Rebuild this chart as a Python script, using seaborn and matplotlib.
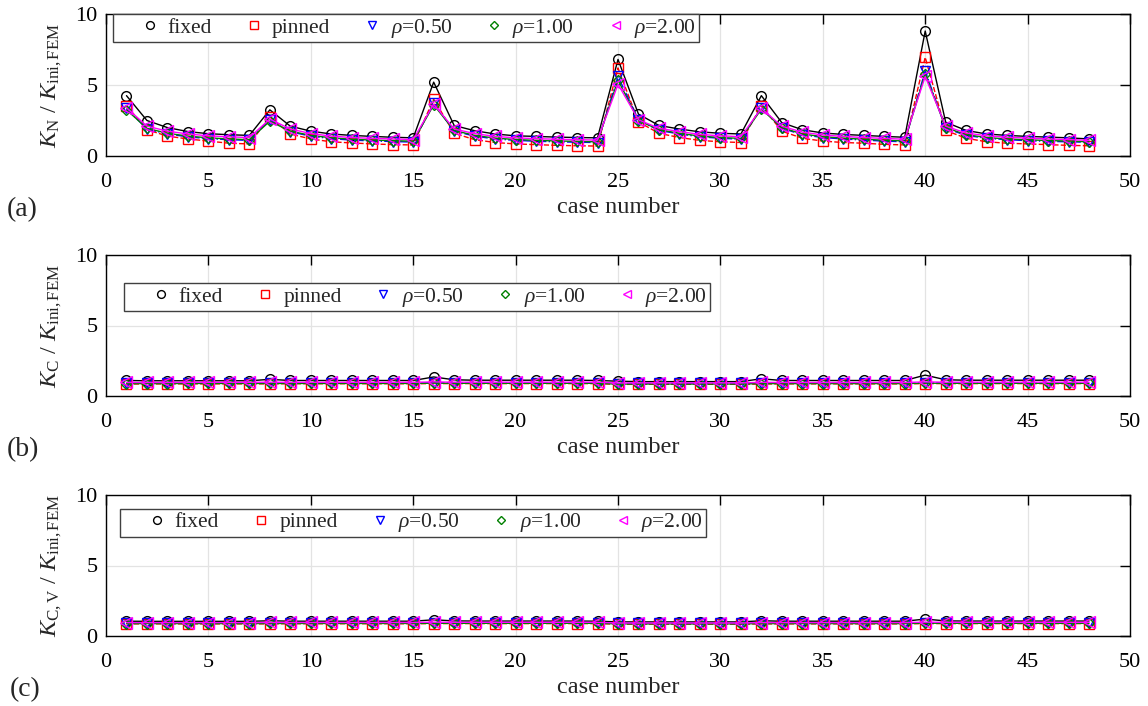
import numpy as np
import pandas as pd
import matplotlib
matplotlib.use("Agg")
import matplotlib.pyplot as plt
import seaborn as sns

# ---------------- data ----------------
cases = list(range(1, 49))

# panel (a): K_N / K_ini,FEM
a_fixed = [4.25, 2.50, 2.00, 1.72, 1.57, 1.50, 1.45, 3.25, 2.10, 1.75, 1.55, 1.45,
           1.38, 1.32, 1.28, 5.20, 2.15, 1.78, 1.55, 1.42, 1.38, 1.33, 1.30, 1.28,
           6.80, 2.95, 2.15, 1.90, 1.70, 1.60, 1.55, 4.25, 2.35, 1.85, 1.62, 1.52,
           1.45, 1.38, 1.32, 8.80, 2.38, 1.80, 1.55, 1.45, 1.38, 1.33, 1.28, 1.20]
a_pinned = [3.55, 1.85, 1.40, 1.20, 1.05, 0.90, 0.85, 2.75, 1.55, 1.20, 1.00, 0.92,
            0.85, 0.80, 0.78, 4.00, 1.60, 1.15, 0.95, 0.85, 0.80, 0.75, 0.72, 0.70,
            6.20, 2.40, 1.60, 1.30, 1.10, 1.00, 0.95, 3.55, 1.75, 1.25, 1.05, 0.95,
            0.90, 0.82, 0.78, 6.95, 1.80, 1.25, 1.00, 0.90, 0.85, 0.80, 0.75, 0.72]
a_rho05 = [3.35, 1.90, 1.55, 1.35, 1.22, 1.15, 1.10, 2.55, 1.70, 1.40, 1.22, 1.12,
           1.06, 1.02, 0.98, 3.70, 1.75, 1.40, 1.20, 1.10, 1.04, 1.00, 0.97, 0.95,
           5.60, 2.55, 1.80, 1.55, 1.35, 1.25, 1.18, 3.40, 1.95, 1.50, 1.30, 1.20,
           1.12, 1.05, 1.00, 6.00, 1.95, 1.45, 1.25, 1.15, 1.08, 1.03, 1.00, 0.97]
a_rho10 = [3.25, 1.95, 1.60, 1.40, 1.28, 1.20, 1.15, 2.45, 1.75, 1.45, 1.28, 1.18,
           1.12, 1.08, 1.04, 3.60, 1.80, 1.45, 1.26, 1.16, 1.10, 1.06, 1.03, 1.00,
           5.35, 2.50, 1.85, 1.60, 1.40, 1.30, 1.24, 3.30, 2.00, 1.55, 1.36, 1.26,
           1.18, 1.11, 1.06, 5.80, 2.00, 1.50, 1.30, 1.20, 1.14, 1.09, 1.05, 1.00]
a_rho20 = [3.40, 2.10, 1.75, 1.55, 1.42, 1.35, 1.30, 2.60, 1.90, 1.58, 1.40, 1.30,
           1.24, 1.20, 1.16, 3.65, 1.90, 1.58, 1.38, 1.28, 1.22, 1.18, 1.15, 1.12,
           5.05, 2.55, 1.95, 1.72, 1.52, 1.42, 1.36, 3.35, 2.10, 1.68, 1.48, 1.38,
           1.30, 1.24, 1.18, 5.60, 2.10, 1.62, 1.42, 1.32, 1.26, 1.20, 1.16, 1.10]

# panel (b): K_C / K_ini,FEM
b_fixed = [1.10, 1.08, 1.08, 1.08, 1.08, 1.08, 1.08, 1.18, 1.10, 1.10, 1.10, 1.10,
           1.10, 1.10, 1.10, 1.35, 1.15, 1.12, 1.12, 1.12, 1.12, 1.12, 1.12, 1.10,
           1.05, 1.02, 1.02, 1.02, 1.02, 1.02, 1.02, 1.22, 1.10, 1.10, 1.10, 1.10,
           1.10, 1.10, 1.10, 1.48, 1.15, 1.12, 1.12, 1.12, 1.12, 1.12, 1.12, 1.12]
b_pinned = [0.85, 0.85, 0.86, 0.86, 0.86, 0.86, 0.86, 0.86, 0.87, 0.87, 0.87, 0.87,
            0.87, 0.87, 0.87, 0.88, 0.88, 0.88, 0.88, 0.88, 0.88, 0.88, 0.88, 0.88,
            0.82, 0.83, 0.83, 0.83, 0.83, 0.83, 0.83, 0.85, 0.86, 0.86, 0.86, 0.86,
            0.86, 0.86, 0.86, 0.88, 0.88, 0.88, 0.88, 0.88, 0.88, 0.88, 0.88, 0.88]
b_rho05 = [0.92, 0.92, 0.92, 0.93, 0.93, 0.93, 0.93, 0.93, 0.93, 0.93, 0.93, 0.93,
           0.93, 0.93, 0.93, 0.95, 0.94, 0.94, 0.94, 0.94, 0.94, 0.94, 0.94, 0.94,
           0.88, 0.89, 0.89, 0.89, 0.89, 0.89, 0.89, 0.92, 0.92, 0.92, 0.92, 0.92,
           0.92, 0.92, 0.92, 0.95, 0.94, 0.94, 0.94, 0.94, 0.94, 0.94, 0.94, 0.94]
b_rho10 = [0.88, 0.88, 0.88, 0.89, 0.89, 0.89, 0.89, 0.89, 0.89, 0.89, 0.89, 0.89,
           0.89, 0.89, 0.89, 0.91, 0.90, 0.90, 0.90, 0.90, 0.90, 0.90, 0.90, 0.90,
           0.84, 0.85, 0.85, 0.85, 0.85, 0.85, 0.85, 0.88, 0.88, 0.88, 0.88, 0.88,
           0.88, 0.88, 0.88, 0.91, 0.90, 0.90, 0.90, 0.90, 0.90, 0.90, 0.90, 0.90]
b_rho20 = [0.96, 0.96, 0.96, 0.97, 0.97, 0.97, 0.97, 0.98, 0.97, 0.97, 0.97, 0.97,
           0.97, 0.97, 0.97, 1.00, 0.98, 0.98, 0.98, 0.98, 0.98, 0.98, 0.98, 0.98,
           0.92, 0.93, 0.93, 0.93, 0.93, 0.93, 0.93, 0.97, 0.96, 0.96, 0.96, 0.96,
           0.96, 0.96, 0.96, 1.00, 0.98, 0.98, 0.98, 0.98, 0.98, 0.98, 0.98, 0.98]

# panel (c): K_C,V / K_ini,FEM
c_fixed = [1.05, 1.04, 1.04, 1.04, 1.04, 1.04, 1.04, 1.08, 1.05, 1.05, 1.05, 1.05,
           1.05, 1.05, 1.05, 1.15, 1.07, 1.06, 1.06, 1.06, 1.06, 1.06, 1.06, 1.05,
           1.00, 1.00, 1.00, 1.00, 1.00, 1.00, 1.00, 1.08, 1.05, 1.05, 1.05, 1.05,
           1.05, 1.05, 1.05, 1.20, 1.07, 1.06, 1.06, 1.06, 1.06, 1.06, 1.06, 1.06]
c_pinned = [0.86, 0.86, 0.86, 0.86, 0.86, 0.86, 0.86, 0.86, 0.87, 0.87, 0.87, 0.87,
            0.87, 0.87, 0.87, 0.88, 0.88, 0.88, 0.88, 0.88, 0.88, 0.88, 0.88, 0.88,
            0.84, 0.84, 0.84, 0.84, 0.84, 0.84, 0.84, 0.86, 0.86, 0.86, 0.86, 0.86,
            0.86, 0.86, 0.86, 0.88, 0.88, 0.88, 0.88, 0.88, 0.88, 0.88, 0.88, 0.88]
c_rho05 = [0.91, 0.91, 0.91, 0.91, 0.91, 0.91, 0.91, 0.92, 0.92, 0.92, 0.92, 0.92,
           0.92, 0.92, 0.92, 0.93, 0.93, 0.93, 0.93, 0.93, 0.93, 0.93, 0.93, 0.93,
           0.89, 0.89, 0.89, 0.89, 0.89, 0.89, 0.89, 0.91, 0.91, 0.91, 0.91, 0.91,
           0.91, 0.91, 0.91, 0.94, 0.93, 0.93, 0.93, 0.93, 0.93, 0.93, 0.93, 0.93]
c_rho10 = [0.88, 0.88, 0.88, 0.88, 0.88, 0.88, 0.88, 0.89, 0.89, 0.89, 0.89, 0.89,
           0.89, 0.89, 0.89, 0.90, 0.90, 0.90, 0.90, 0.90, 0.90, 0.90, 0.90, 0.90,
           0.86, 0.86, 0.86, 0.86, 0.86, 0.86, 0.86, 0.88, 0.88, 0.88, 0.88, 0.88,
           0.88, 0.88, 0.88, 0.91, 0.90, 0.90, 0.90, 0.90, 0.90, 0.90, 0.90, 0.90]
c_rho20 = [0.95, 0.95, 0.95, 0.95, 0.95, 0.95, 0.95, 0.96, 0.96, 0.96, 0.96, 0.96,
           0.96, 0.96, 0.96, 0.98, 0.97, 0.97, 0.97, 0.97, 0.97, 0.97, 0.97, 0.97,
           0.92, 0.92, 0.92, 0.92, 0.92, 0.92, 0.92, 0.95, 0.95, 0.95, 0.95, 0.95,
           0.95, 0.95, 0.95, 0.98, 0.97, 0.97, 0.97, 0.97, 0.97, 0.97, 0.97, 0.97]

series_labels = ["fixed", "pinned", r"$\rho$=0.50", r"$\rho$=1.00", r"$\rho$=2.00"]
panel_tags = ["(a)", "(b)", "(c)"]
y_labels = [r"$K_{\rm N}$ / $K_{\rm ini,FEM}$",
            r"$K_{\rm C}$ / $K_{\rm ini,FEM}$",
            r"$K_{\rm C,V}$ / $K_{\rm ini,FEM}$"]
x_ticks = [0, 5, 10, 15, 20, 25, 30, 35, 40, 45, 50]
y_ticks = [0, 5, 10]

panels = [
    [a_fixed, a_pinned, a_rho05, a_rho10, a_rho20],
    [b_fixed, b_pinned, b_rho05, b_rho10, b_rho20],
    [c_fixed, c_pinned, c_rho05, c_rho10, c_rho20],
]

# ---------------- styling ----------------
sns.set_theme(style="white")
plt.rcParams["font.family"] = ["Liberation Serif", "DejaVu Serif"]
plt.rcParams["mathtext.fontset"] = "custom"
plt.rcParams["mathtext.rm"] = "Liberation Serif"
plt.rcParams["mathtext.it"] = "Liberation Serif:italic"
plt.rcParams["mathtext.bf"] = "Liberation Serif:bold"

styles = [
    dict(color="black", marker="o", linestyle="-", ms=7.0, lw=1.0),
    dict(color="red", marker="s", linestyle="--", ms=6.5, lw=1.0),
    dict(color="blue", marker="v", linestyle="-.", ms=7.0, lw=1.0),
    dict(color="green", marker="D", linestyle="-", ms=5.5, lw=1.0),
    dict(color="magenta", marker="<", linestyle="-", ms=8.0, lw=1.0),
]

fig = plt.figure(figsize=(11.48, 7.06), dpi=100)
W, H = 1148, 706
ax_boxes = [(106, 14, 1130, 156), (106, 255, 1130, 396), (106, 495, 1130, 636)]
legend_anchor = [(0.0068, 1.0), (0.0176, 0.80), (0.0137, 0.903)]
tag_pos = [(7, 210), (7, 450), (10, 690)]

tick_fs = 16
label_fs = 17.5
leg_fs = 15.5
for i, (box, vals) in enumerate(zip(ax_boxes, panels)):
    x0, y0, x1, y1 = box
    ax = fig.add_axes([x0 / W, 1 - y1 / H, (x1 - x0) / W, (y1 - y0) / H])
    for lab, v, st in zip(series_labels, vals, styles):
        sns.lineplot(x=cases, y=v, ax=ax, label=lab, color=st["color"],
                     marker=st["marker"], linestyle=st["linestyle"],
                     markersize=st["ms"], linewidth=st["lw"],
                     markerfacecolor="none", markeredgecolor=st["color"],
                     markeredgewidth=1.0, errorbar=None)
    ax.set_xlim(0, 50)
    ax.set_ylim(0, 10)
    ax.set_xticks(x_ticks)
    ax.set_yticks(y_ticks)
    ax.tick_params(direction="in", top=True, right=True, length=7, width=1,
                   labelsize=tick_fs, colors="black")
    ax.tick_params(axis="x", pad=12)
    ax.tick_params(axis="y", pad=6)
    ax.grid(True, color="#e3e3e3", linewidth=0.9)
    for s in ax.spines.values():
        s.set_edgecolor("black")
        s.set_linewidth(1.0)
    ax.set_xlabel("case number", fontsize=label_fs, labelpad=4)
    ax.set_ylabel(y_labels[i], fontsize=label_fs, labelpad=8)

    # legend: open markers only, one row
    leg_handles = []
    for st in styles:
        h = plt.Line2D([], [], linestyle="none", marker=st["marker"],
                       markersize=st["ms"] * 0.8, markerfacecolor="none",
                       markeredgecolor=st["color"], markeredgewidth=1.0)
        leg_handles.append(h)
    leg = ax.legend(leg_handles, series_labels, loc="upper left",
                    bbox_to_anchor=legend_anchor[i], borderaxespad=0,
                    ncol=5, fontsize=leg_fs, frameon=True, fancybox=False,
                    framealpha=1, edgecolor="#404040", handlelength=3.16,
                    handletextpad=-0.74, columnspacing=0.37, borderpad=0.12)
    leg.get_frame().set_linewidth(1.0)

    tx, ty = tag_pos[i]
    fig.text(tx / W, 1 - ty / H, panel_tags[i], fontsize=20,
             ha="left", va="center")

fig.savefig("out.png", dpi=100)
